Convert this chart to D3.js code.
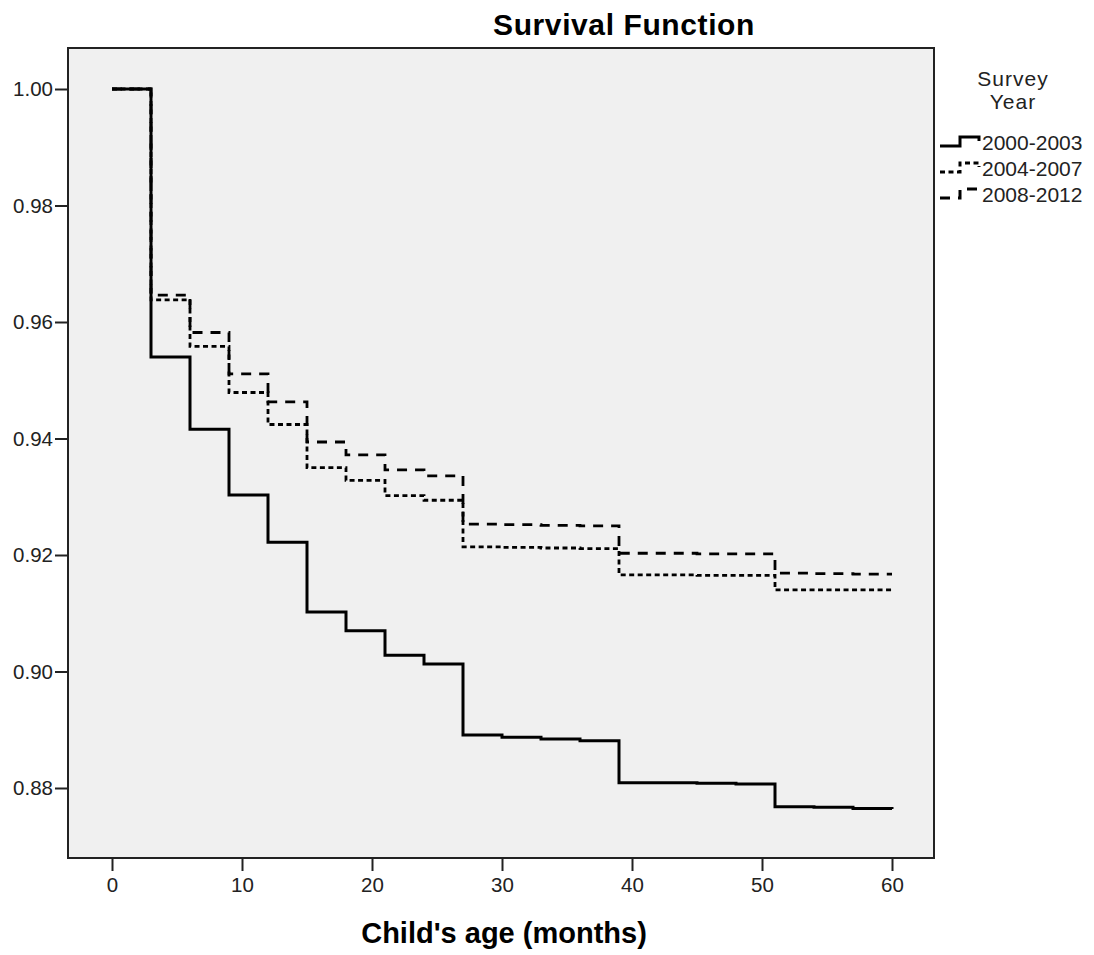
<!DOCTYPE html>
<html lang="en">
<head>
    <meta charset="UTF-8">
    <title>survival-function</title>
    <script src="https://cdn.jsdelivr.net/npm/d3@7/dist/d3.min.js"></script>
    <style>
        body {
            margin: 0;
            background: #fff;
        }
        svg text {
            font-family: "Liberation Sans", Arial, sans-serif;
        }
    </style>
</head>
<body>
<svg class="chart"></svg>
<script>
    // months at which the curves step (every 3 months)
    var months = [0, 3, 6, 9, 12, 15, 18, 21, 24, 27, 30, 33, 36, 39, 42, 45, 48, 51, 54, 57, 60];

    // survival estimates
    var s2000 = [1.000, 0.9540, 0.9416, 0.9303, 0.9222, 0.9102, 0.9070, 0.9028, 0.9013, 0.8891, 0.8887,
        0.8884, 0.8881, 0.8809, 0.8809, 0.8808, 0.8807, 0.8768, 0.8767, 0.8765, 0.8764];
    var s2004 = [1.000, 0.9638, 0.9558, 0.9479, 0.9424, 0.9350, 0.9328, 0.9302, 0.9294, 0.9214, 0.9213,
        0.9212, 0.9211, 0.9166, 0.9166, 0.9165, 0.9165, 0.9140, 0.9140, 0.9140, 0.9140];
    var s2008 = [1.000, 0.9646, 0.9582, 0.9511, 0.9463, 0.9394, 0.9372, 0.9346, 0.9336, 0.9253, 0.9252,
        0.9251, 0.9250, 0.9203, 0.9203, 0.9202, 0.9202, 0.9169, 0.9168, 0.9167, 0.9167];

    var seriesNames = ['2000-2003', '2004-2007', '2008-2012'];
    var seriesValues = [s2000, s2004, s2008];
    var seriesDash = [null, '5,3.5', '10,8'];

    var xTicks = [0, 10, 20, 30, 40, 50, 60];
    var yTicks = [0.88, 0.90, 0.92, 0.94, 0.96, 0.98, 1.00];

    var width = 1094, height = 955;
    // plot frame
    var frame = {left: 68, top: 48, right: 934, bottom: 858};

    var svg = d3.select('.chart')
        .attr('width', width)
        .attr('height', height);

    var x = d3.scaleLinear().domain([0, 60]).range([112, 892]);
    var y = d3.scaleLinear().domain([0.88, 1.00]).range([788, 89]);

    svg.append('rect')
        .attr('x', frame.left)
        .attr('y', frame.top)
        .attr('width', frame.right - frame.left)
        .attr('height', frame.bottom - frame.top)
        .attr('fill', '#f0f0f0')
        .attr('stroke', '#222')
        .attr('stroke-width', 2);

    // y axis
    var yAxis = svg.append('g')
        .attr('transform', 'translate(' + frame.left + ',0)')
        .call(d3.axisLeft(y).tickValues(yTicks).tickFormat(d3.format('.2f')).tickSize(13).tickPadding(2));
    // x axis
    var xAxis = svg.append('g')
        .attr('transform', 'translate(0,' + frame.bottom + ')')
        .call(d3.axisBottom(x).tickValues(xTicks).tickSize(13).tickPadding(6));

    [yAxis, xAxis].forEach(function (g) {
        g.select('.domain').remove();
        g.selectAll('line').attr('stroke', '#222').attr('stroke-width', 2);
        g.selectAll('text')
            .attr('font-size', 20.5)
            .attr('fill', '#222')
            .attr('font-family', '"Liberation Sans", Arial, sans-serif');
    });

    // curves
    var line = d3.line()
        .x(function (d) { return x(d[0]); })
        .y(function (d) { return y(d[1]); })
        .curve(d3.curveStepAfter);

    seriesValues.slice().reverse().forEach(function (vals, k) {
        var i = seriesValues.length - 1 - k;
        var pts = months.map(function (m, j) { return [m, vals[j]]; });
        svg.append('path')
            .datum(pts)
            .attr('d', line)
            .attr('fill', 'none')
            .attr('stroke', '#000')
            .attr('stroke-width', i === 0 ? 3 : 2.8)
            .attr('stroke-dasharray', seriesDash[i]);
    });

    // title and axis label
    svg.append('text')
        .attr('x', 624)
        .attr('y', 35)
        .attr('text-anchor', 'middle')
        .attr('font-size', 30)
        .attr('font-weight', 'bold')
        .attr('letter-spacing', 0.6)
        .text('Survival Function');

    svg.append('text')
        .attr('x', 504)
        .attr('y', 943)
        .attr('text-anchor', 'middle')
        .attr('font-size', 29)
        .attr('font-weight', 'bold')
        .text("Child's age (months)");

    // legend
    var legend = svg.append('g');
    legend.append('text')
        .attr('x', 1013).attr('y', 86)
        .attr('text-anchor', 'middle')
        .attr('font-size', 21)
        .attr('fill', '#222')
        .attr('letter-spacing', 1)
        .text('Survey');
    legend.append('text')
        .attr('x', 1013).attr('y', 109)
        .attr('text-anchor', 'middle')
        .attr('font-size', 21)
        .attr('fill', '#222')
        .attr('letter-spacing', 1)
        .text('Year');

    seriesNames.forEach(function (name, i) {
        var cy = 146 + i * 26;
        var sym = d3.path();
        sym.moveTo(940, cy);
        sym.lineTo(960, cy);
        sym.lineTo(960, cy - 9);
        sym.lineTo(979, cy - 9);
        sym.lineTo(979, cy - 5);
        legend.append('path')
            .attr('d', sym.toString())
            .attr('fill', 'none')
            .attr('stroke', '#000')
            .attr('stroke-width', 3)
            .attr('stroke-dasharray', seriesDash[i]);
        legend.append('text')
            .attr('x', 982)
            .attr('y', cy + 4)
            .attr('font-size', 21)
            .attr('fill', '#222')
            .text(name);
    });
</script>
</body>
</html>
